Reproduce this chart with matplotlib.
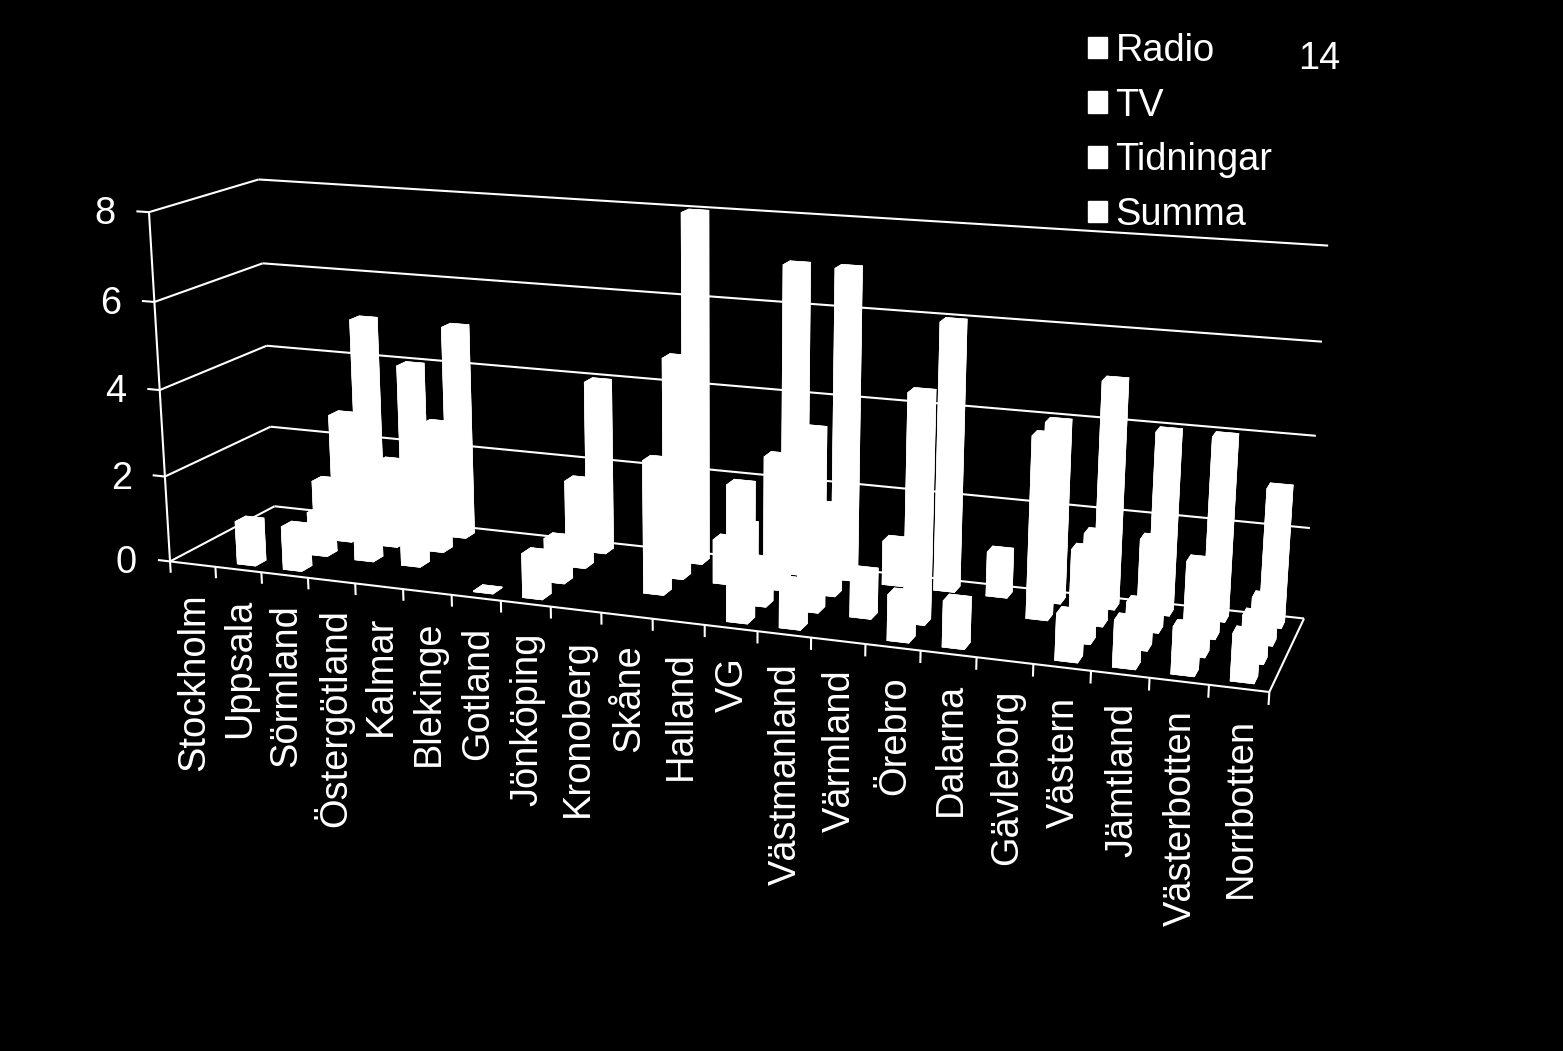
import numpy as np
import matplotlib
matplotlib.use("Agg")
import matplotlib.pyplot as plt
from matplotlib.patches import Patch
from mpl_toolkits.mplot3d import proj3d
from mpl_toolkits.mplot3d.art3d import Line3DCollection

# Values
regions = ["Stockholm", "Uppsala", "Sörmland", "Östergötland", "Kalmar", "Blekinge", "Gotland",
           "Jönköping", "Kronoberg", "Skåne", "Halland", "VG", "Västmanland", "Värmland",
           "Örebro", "Dalarna", "Gävleborg", "Västern", "Jämtland", "Västerbotten", "Norrbotten"]
radio     = [0, 1, 1, 0, 0, 0, 0.02, 1, 0, 0, 0, 3, 1, 0, 1, 1, 0, 1, 1, 1, 1]
tv        = [0, 0, 1, 2, 2, 0, 0, 1, 0, 3, 0, 1, 4, 1, 5, 0, 0, 2, 1, 2, 1]
tidningar = [0, 0, 3, 2, 3, 0, 0, 2, 0, 5, 1, 3, 2, 0, 0, 0, 4, 2, 2, 1, 1]
summa     = [0, 1, 5, 4, 5, 0, 0, 4, 0, 8, 1, 7, 7, 1, 6, 1, 4, 5, 4, 4, 3]
series_names = ["Radio", "TV", "Tidningar", "Summa"]
z_ticks = [0, 2, 4, 6, 8]

W, H = 1563, 1051
FONT = "Liberation Sans"
FS = 27.4

# Camera: world point (category, series, value) -> pixel, fitted on the box corners
world = np.array([[0, 0, 0], [21, 0, 0], [10, 0, 0], [21, 4, 0], [0, 4, 0], [0, 4, 2], [0, 4, 4], [0, 4, 6], [0, 4, 8],
                  [0, 0, 2], [0, 0, 4], [0, 0, 6], [0, 0, 8], [21, 4, 2], [21, 4, 4], [21, 4, 6], [21, 4, 8]], float)
pixel = np.array([[170, 561], [1269, 692], [653, 620], [1304, 618], [274, 506], [271, 427], [267, 346], [263, 263], [258, 180],
                  [165, 476], [159, 390], [155, 302], [149, 212], [1310, 528], [1316, 436], [1322, 342], [1328, 245]], float) / 1000
rows = []
for (x, y, z), (u, v) in zip(world, pixel):
    rows.append([x, y, z, 1, 0, 0, 0, 0, -u * x, -u * y, -u * z, -u])
    rows.append([0, 0, 0, 0, x, y, z, 1, -v * x, -v * y, -v * z, -v])
cam = np.linalg.svd(np.array(rows))[2][-1].reshape(3, 4)
M = np.array([cam[0] * 1000, cam[1] * 1000, [0, 0.1, 0, 0], cam[2]])

fig = plt.figure(figsize=(W / 100, H / 100), dpi=100, facecolor="black")
ax = fig.add_axes([0, 0, 1, 1], projection="3d", computed_zorder=False, facecolor="black")
ax.set_axis_off()
ax.get_proj = lambda: M
ax.apply_aspect = lambda position=None: None
ax.viewLim.set_points(np.array([[0, H], [W, 0]], float))


def to_px(x, y, z):
    u, v, _ = proj3d.proj_transform(x, y, z, M)
    return u, v


n = len(regions)
segments = []

# walls and floor
for z in z_ticks:
    segments.append([(0, 0, z), (0, 4, z)])
    segments.append([(0, 4, z), (n, 4, z)])
    segments.append([(0, 0, z), (-0.27, 0, z)])
    u, v = to_px(0, 0, z)
    ax.text2D(u - 33, v + 2, str(z), transform=ax.transData, color="white", fontsize=FS, family=FONT, ha="right", va="center")
segments.append([(0, 0, 0), (0, 0, 8)])
segments.append([(0, 0, 0), (n, 0, 0)])
segments.append([(n, 0, 0), (n, 4, 0)])

# category ticks and labels
for i in range(n + 1):
    segments.append([(i, 0, 0), (i, 0, -0.27)])
for i, name in enumerate(regions):
    u, v = to_px(i + 0.5, 0, 0)
    ax.text2D(u + 2, v + 29, name, transform=ax.transData, color="white", fontsize=FS, family=FONT,
              rotation=90, ha="center", va="top")

ax.add_collection3d(Line3DCollection(segments, colors="white", linewidths=1.5, zorder=1), autolim=False)

# bars
xs, ys, hs = [], [], []
for row, values in enumerate([radio, tv, tidningar, summa]):
    for i, val in enumerate(values):
        if val > 0:
            xs.append(i + 0.3)
            ys.append(row + 0.3)
            hs.append(val)
ax.bar3d(xs, ys, 0, 0.4, 0.4, hs, color="white", shade=False, edgecolor="white", linewidth=0.4, zorder=3)

handles = [Patch(facecolor="white", edgecolor="white") for _ in series_names]
ax.legend(handles, series_names, loc="upper left", bbox_to_anchor=(1088 / W, 1 - 33 / H), frameon=False,
          labelcolor="white", prop={"family": FONT, "size": FS}, borderpad=0, borderaxespad=0,
          handlelength=0.5, handleheight=0.5, handletextpad=0.22, labelspacing=0.49)

fig.text(1319 / W, 1 - 59 / H, "14", color="white", fontsize=FS, family=FONT, ha="center", va="center")

fig.savefig("out.png", dpi=100, facecolor="black")
